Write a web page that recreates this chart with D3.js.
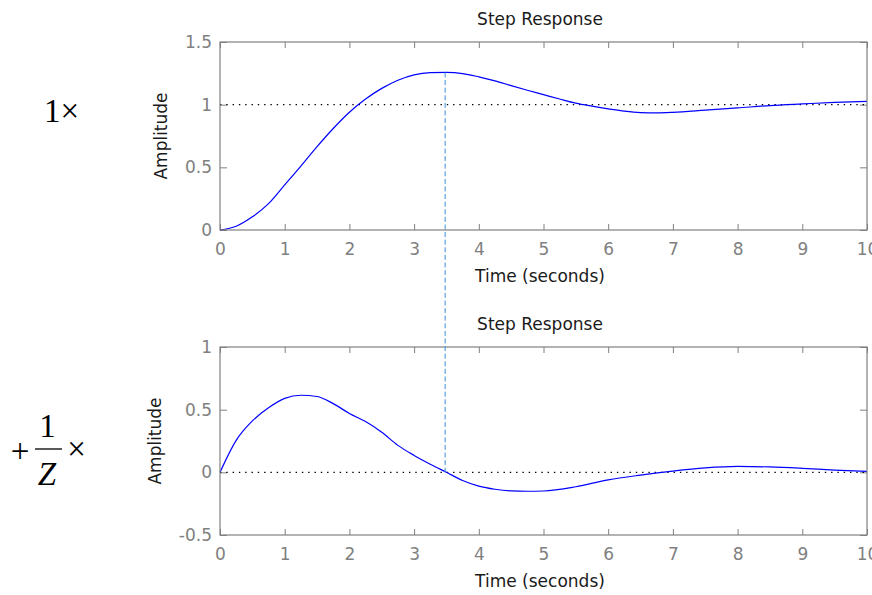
<!DOCTYPE html>
<html>
<head>
<meta charset="utf-8">
<script src="https://cdn.jsdelivr.net/npm/d3@7"></script>
<style>
  body { margin: 0; background: #fff; }
  svg { display: block; }
</style>
</head>
<body>
<div id="chart"></div>
<script>
// values

var timeTop = [0, 0.25, 0.5, 0.75, 1, 1.25, 1.5, 1.75, 2, 2.25, 2.5, 2.75, 3, 3.25, 3.5, 3.75,
               4, 4.25, 4.5, 4.75, 5, 5.25, 5.5, 5.75, 6, 6.25, 6.5, 6.75, 7, 7.5, 8, 8.5, 9, 9.5, 10];
var ampTop = [0, 0.03, 0.105, 0.21, 0.36, 0.51, 0.665, 0.81, 0.94, 1.045, 1.13, 1.195, 1.238, 1.255, 1.257, 1.248,
              1.222, 1.19, 1.152, 1.115, 1.08, 1.045, 1.012, 0.988, 0.967, 0.948, 0.937, 0.935, 0.939, 0.956, 0.974, 0.993, 1.006, 1.018, 1.026];

var timeBottom = [0, 0.25, 0.5, 0.75, 1, 1.25, 1.5, 1.75, 2, 2.25, 2.5, 2.75, 3, 3.25, 3.5, 3.75,
                  4, 4.25, 4.5, 4.75, 5, 5.5, 6, 6.5, 7, 7.5, 8, 8.5, 9, 9.5, 10];
var ampBottom = [0, 0.255, 0.41, 0.515, 0.59, 0.615, 0.605, 0.548, 0.47, 0.405, 0.32, 0.215, 0.135, 0.065, 0.0, -0.065,
                 -0.11, -0.135, -0.148, -0.151, -0.149, -0.115, -0.06, -0.022, 0.01, 0.035, 0.047, 0.043, 0.032, 0.018, 0.008];

var xTicks = [0, 1, 2, 3, 4, 5, 6, 7, 8, 9, 10];
var yTicksTop = [0, 0.5, 1, 1.5];
var yTicksBottom = [-0.5, 0, 0.5, 1];

var peakTime = 3.48;
var peakAmp = 1.257;

var titleText = "Step Response",
    xLabel = "Time (seconds)",
    yLabel = "Amplitude";

var width = 872, height = 595;

var svg = d3.select('#chart').append('svg')
    .attr("width", width)
    .attr("height", height);

var font = "'DejaVu Sans', sans-serif",
    fsize = "17px",
    grey = "#808080";

// one panel of the step plot
function drawPanel(top, bottom, yDomain, yTicks, times, amps, ref, labelX){
    var x = d3.scaleLinear().domain([0, 10]).range([220, 867]);
    var y = d3.scaleLinear().domain(yDomain).range([bottom, top]);

    var xb = svg.append("g")
        .attr("transform", "translate(0," + bottom + ")")
        .call(d3.axisBottom(x).tickValues(xTicks).tickSize(-6).tickPadding(13).tickFormat(d3.format("d")));
    var xt = svg.append("g")
        .attr("transform", "translate(0," + top + ")")
        .call(d3.axisTop(x).tickValues(xTicks).tickSize(-6).tickFormat(""));
    var yl = svg.append("g")
        .attr("transform", "translate(220,0)")
        .call(d3.axisLeft(y).tickValues(yTicks).tickSize(-7).tickPadding(8).tickFormat(d => String(d)));
    var yr = svg.append("g")
        .attr("transform", "translate(867,0)")
        .call(d3.axisRight(y).tickValues(yTicks).tickSize(-7).tickFormat(""));

    [xb, xt, yl, yr].forEach(function(g){
        g.select(".domain").remove();
        g.selectAll("line").attr("stroke", grey);
        g.selectAll("text")
            .attr("fill", grey)
            .style("font-family", font)
            .style("font-size", fsize);
    });

    // dotted reference line
    svg.append("line")
        .attr("x1", x(0)).attr("x2", x(10))
        .attr("y1", y(ref)).attr("y2", y(ref))
        .attr("stroke", "#000")
        .attr("stroke-width", 1.4)
        .attr("stroke-dasharray", "1.4,4.9");

    // response curve
    svg.append("path")
        .datum(d3.zip(times, amps))
        .attr("fill", "none")
        .attr("stroke", "#0000ff")
        .attr("stroke-width", 1.2)
        .attr("d", d3.line()
            .x(d => x(d[0]))
            .y(d => y(d[1]))
            .curve(d3.curveMonotoneX));

    // box
    svg.append("rect")
        .attr("x", 220)
        .attr("y", top)
        .attr("width", 647)
        .attr("height", bottom - top)
        .attr("fill", "none")
        .attr("stroke", grey)
        .attr("stroke-width", 1.2);

    svg.append("text")
        .attr("x", 540)
        .attr("y", top - 17)
        .attr("text-anchor", "middle")
        .style("font-family", font)
        .style("font-size", fsize)
        .attr("fill", "#1a1a1a")
        .text(titleText);

    svg.append("text")
        .attr("x", 540)
        .attr("y", bottom + 52)
        .attr("text-anchor", "middle")
        .style("font-family", font)
        .style("font-size", fsize)
        .attr("fill", "#1a1a1a")
        .text(xLabel);

    var my = (top + bottom) / 2;
    svg.append("text")
        .attr("transform", "translate(" + labelX + "," + my + ") rotate(-90)")
        .attr("text-anchor", "middle")
        .style("font-family", font)
        .style("font-size", fsize)
        .attr("fill", "#1a1a1a")
        .text(yLabel);

    return {x: x, y: y};
}

var p1 = drawPanel(42, 230, [0, 1.5], yTicksTop, timeTop, ampTop, 1, 167),
    p2 = drawPanel(347, 535, [-0.5, 1], yTicksBottom, timeBottom, ampBottom, 0, 161);

// dashed marker from the peak of the top curve down to the zero crossing below
svg.append("line")
    .attr("x1", p1.x(peakTime)).attr("x2", p1.x(peakTime))
    .attr("y1", p1.y(peakAmp)).attr("y2", p2.y(0))
    .attr("stroke", "#3d8fe0")
    .attr("stroke-width", 1)
    .attr("stroke-dasharray", "5,2.6");

// left-hand labels
var serif = "'Liberation Serif', 'Times New Roman', serif";

svg.append("text")
    .attr("x", 44).attr("y", 121.5)
    .style("font-family", serif)
    .style("font-size", "33px")
    .text("1\u00d7");

svg.append("text")
    .attr("x", 20).attr("y", 451)
    .attr("text-anchor", "middle")
    .attr("dy", "0.32em")
    .style("font-family", serif)
    .style("font-size", "33px")
    .text("+");

svg.append("text")
    .attr("x", 47.5).attr("y", 437)
    .attr("text-anchor", "middle")
    .style("font-family", serif)
    .style("font-size", "33px")
    .text("1");

svg.append("line")
    .attr("x1", 35).attr("x2", 62)
    .attr("y1", 449).attr("y2", 449)
    .attr("stroke", "#000")
    .attr("stroke-width", 1.3);

svg.append("text")
    .attr("x", 47).attr("y", 485)
    .attr("text-anchor", "middle")
    .style("font-family", serif)
    .style("font-style", "italic")
    .style("font-size", "33px")
    .text("Z");

svg.append("text")
    .attr("x", 76.5).attr("y", 449)
    .attr("text-anchor", "middle")
    .attr("dy", "0.32em")
    .style("font-family", serif)
    .style("font-size", "33px")
    .text("\u00d7");
</script>
</body>
</html>
